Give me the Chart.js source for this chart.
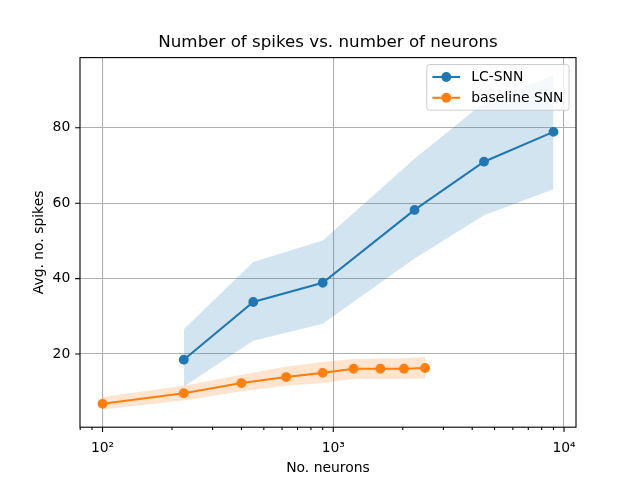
<!DOCTYPE html>
<html>
<head>
<meta charset="utf-8">
<script src="https://cdn.jsdelivr.net/npm/chart.js@4"></script>
<style>
  body { margin: 0; background: #fff; }
</style>
</head>
<body>
<canvas id="myChart" width="640" height="480"></canvas>
<script>
// data
const chartTitle = 'Number of spikes vs. number of neurons';
const seriesNames = ['LC-SNN', 'baseline SNN'];

const lcNeurons = [225, 450, 900, 2250, 4500, 9000];
const lcMean  = [18.5, 33.8, 38.9, 58.2, 71.0, 78.9];
const lcLower = [11.4, 23.5, 28.0, 45.3, 56.8, 63.7];
const lcUpper = [26.6, 44.4, 50.1, 71.8, 86.7, 94.0];

const blNeurons = [100, 225, 400, 625, 900, 1225, 1600, 2025, 2500];
const blMean  = [6.8, 9.6, 12.3, 13.9, 15.0, 16.1, 16.1, 16.1, 16.3];
const blLower = [5.3, 7.7, 10.1, 11.6, 12.3, 13.4, 13.4, 13.4, 13.5];
const blUpper = [8.6, 11.6, 14.5, 16.7, 17.9, 18.7, 18.8, 18.9, 19.2];

const xTicks = [100, 1000, 10000];
const xTickLabels = ['10\u00b2', '10\u00b3', '10\u2074'];
const xMinorTicks = [80, 90, 200, 300, 400, 500, 600, 700, 800, 900,
  2000, 3000, 4000, 5000, 6000, 7000, 8000, 9000];
const yTicks = [20, 40, 60, 80];

const C0 = '#1f77b4', C1 = '#ff7f0e';
const FONT = '"DejaVu Sans", sans-serif';

function pts(xs, ys) {
  return xs.map((n, i) => ({x: n, y: ys[i]}));
}

// title over the axes, spines, tick marks and the matplotlib style legend
const mplFrame = {
  id: 'mplFrame',
  afterDraw(chart) {
    const {ctx, chartArea: a, scales: {x, y}} = chart;
    ctx.save();

    ctx.fillStyle = '#000';
    ctx.font = '16.7px ' + FONT;
    ctx.textAlign = 'center';
    ctx.textBaseline = 'middle';
    ctx.fillText(chartTitle, (a.left + a.right) / 2, a.top - 15.3);

    ctx.strokeStyle = '#000';
    ctx.lineWidth = 1.1;
    ctx.beginPath();
    xTicks.forEach(v => {
      const px = x.getPixelForValue(v);
      ctx.moveTo(px, a.bottom); ctx.lineTo(px, a.bottom + 4.9);
    });
    xMinorTicks.forEach(v => {
      const px = x.getPixelForValue(v);
      ctx.moveTo(px, a.bottom); ctx.lineTo(px, a.bottom + 2.8);
    });
    yTicks.forEach(v => {
      const py = y.getPixelForValue(v);
      ctx.moveTo(a.left, py); ctx.lineTo(a.left - 4.9, py);
    });
    ctx.stroke();
    ctx.strokeRect(a.left, a.top, a.right - a.left, a.bottom - a.top);

    // legend
    const fs = 13.9;
    ctx.font = fs + 'px ' + FONT;
    const cols = [C0, C1];
    const tw = Math.max(...seriesNames.map(s => ctx.measureText(s).width));
    const pad = 0.4 * fs, hl = 2 * fs, htp = 0.8 * fs, rowH = 13.8, sp = 0.5 * fs;
    const right = a.right - 0.5 * fs, top = a.top + 0.5 * fs;
    const w = 2 * pad + hl + htp + tw, h = 2 * pad + 2 * rowH + sp;
    const left = right - w;
    ctx.beginPath();
    ctx.roundRect(left, top, w, h, 2.8);
    ctx.fillStyle = 'rgba(255,255,255,0.8)';
    ctx.fill();
    ctx.strokeStyle = '#cccccc';
    ctx.lineWidth = 1;
    ctx.stroke();
    seriesNames.forEach((s, i) => {
      const cy = top + pad + rowH / 2 + i * (rowH + sp);
      ctx.strokeStyle = cols[i];
      ctx.lineWidth = 2.1;
      ctx.beginPath();
      ctx.moveTo(left + pad, cy); ctx.lineTo(left + pad + hl, cy);
      ctx.stroke();
      ctx.fillStyle = cols[i];
      ctx.beginPath();
      ctx.arc(left + pad + hl / 2, cy, 4.9, 0, Math.PI * 2);
      ctx.fill();
      ctx.fillStyle = '#000';
      ctx.textBaseline = 'middle';
      ctx.textAlign = 'left';
      ctx.fillText(s, left + pad + hl + htp, cy + 0.5);
    });
    ctx.restore();
  }
};

const lineStyle = (color) => ({
  borderColor: color,
  backgroundColor: color,
  borderWidth: 2.1,
  pointRadius: 4.2,
  pointBorderWidth: 1.4,
  pointBackgroundColor: color,
  pointBorderColor: color,
  tension: 0,
  fill: false
});
const bandEdge = {borderWidth: 0, pointRadius: 0, tension: 0, borderColor: 'rgba(0,0,0,0)'};

new Chart('myChart', {
  type: 'line',
  data: {
    datasets: [
      Object.assign({label: seriesNames[0], data: pts(lcNeurons, lcMean), order: 1}, lineStyle(C0)),
      Object.assign({label: seriesNames[1], data: pts(blNeurons, blMean), order: 0}, lineStyle(C1)),
      Object.assign({data: pts(lcNeurons, lcLower), order: 10, fill: false}, bandEdge),
      Object.assign({data: pts(lcNeurons, lcUpper), order: 10, fill: '-1',
        backgroundColor: 'rgba(31,119,180,0.2)'}, bandEdge),
      Object.assign({data: pts(blNeurons, blLower), order: 9, fill: false}, bandEdge),
      Object.assign({data: pts(blNeurons, blUpper), order: 9, fill: '-1',
        backgroundColor: 'rgba(255,127,14,0.2)'}, bandEdge)
    ]
  },
  options: {
    responsive: false,
    animation: false,
    layout: {padding: {left: 0, right: 64, top: 57.6, bottom: 0}},
    plugins: {
      legend: {display: false},
      tooltip: {enabled: false},
      title: {display: false}
    },
    scales: {
      x: {
        type: 'logarithmic',
        min: 79.86,
        max: 11270,
        afterBuildTicks: s => { s.ticks = xTicks.concat(xMinorTicks).map(v => ({value: v})); },
        afterFit: s => { s.height = 52.8; s.paddingLeft = 0; s.paddingRight = 0; },
        border: {display: false},
        grid: {
          drawTicks: false,
          lineWidth: 1.1,
          color: c => (c.tick && xTicks.includes(c.tick.value)) ? '#b0b0b0' : 'rgba(0,0,0,0)'
        },
        ticks: {
          autoSkip: false,
          maxRotation: 0,
          padding: 13,
          color: '#000',
          font: {family: FONT, size: 13.9},
          callback: v => { const i = xTicks.indexOf(v); return i >= 0 ? xTickLabels[i] : ''; }
        },
        title: {
          display: true,
          text: 'No. neurons',
          color: '#000',
          font: {family: FONT, size: 13.9, lineHeight: 1.2},
          padding: {top: 0, bottom: 3.6}
        }
      },
      y: {
        min: 0.6,
        max: 98.6,
        afterBuildTicks: s => { s.ticks = yTicks.map(v => ({value: v})); },
        afterFit: s => { s.width = 80; },
        border: {display: false},
        grid: {drawTicks: false, lineWidth: 1.1, color: '#b0b0b0'},
        ticks: {
          padding: 9.7,
          color: '#000',
          font: {family: FONT, size: 13.9}
        },
        title: {
          display: true,
          text: 'Avg. no. spikes',
          color: '#000',
          font: {family: FONT, size: 13.9, lineHeight: 1.2},
          padding: {top: 30.6, bottom: 0}
        }
      }
    }
  },
  plugins: [mplFrame]
});
</script>
</body>
</html>
